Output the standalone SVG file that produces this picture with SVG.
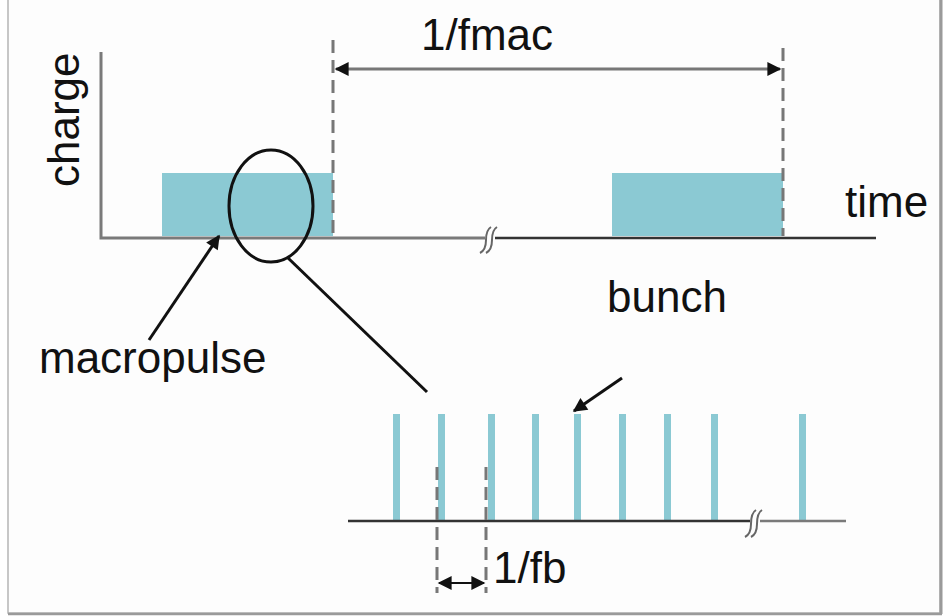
<svg xmlns="http://www.w3.org/2000/svg" width="946" height="616" viewBox="0 0 946 616">
<defs>
<style>
.lbl{font-family:"Liberation Sans",Arial,sans-serif;font-size:44px;fill:#111}
.bar{fill:#8bc9d3}
.axis{stroke:#7a7a7a;stroke-width:3;fill:none}
.axisd{stroke:#333;stroke-width:2.5;fill:none}
.dash{stroke:#777;stroke-width:3;stroke-dasharray:13 7;fill:none}
.brk{stroke:#666;stroke-width:2;fill:none}
.blk{stroke:#111;stroke-width:3;fill:none}
</style>
<marker id="ah" viewBox="0 0 10 10" refX="9" refY="5" markerWidth="6" markerHeight="6" orient="auto-start-reverse" markerUnits="userSpaceOnUse">
<path d="M0,0 L10,5 L0,10 z" fill="#111"/>
</marker>
<marker id="ahb" viewBox="0 0 10 10" refX="9" refY="5" markerWidth="16" markerHeight="14" orient="auto-start-reverse" markerUnits="userSpaceOnUse">
<path d="M0,0 L10,5 L0,10 z" fill="#111"/>
</marker>
</defs>
<rect x="0" y="0" width="946" height="616" fill="#ffffff"/>
<rect x="8" y="-2" width="932" height="615" fill="#fdfdfd" stroke="#b5b5b5" stroke-width="1.5"/>
<line x1="941" y1="0" x2="941" y2="614" stroke="#9a9a9a" stroke-width="3"/>
<line x1="8" y1="614" x2="942" y2="614" stroke="#9a9a9a" stroke-width="2.5"/>

<g id="top-plot">
<rect class="bar" x="162" y="173" width="171" height="63"/>
<rect class="bar" x="612" y="173" width="171" height="63"/>
<polyline class="axis" points="101,52 101,238 485,238"/>
<line class="axisd" x1="495" y1="238" x2="876" y2="238"/>
<path class="brk" d="M480,253 Q486,250 486,240 Q486,230 491,227"/>
<path class="brk" d="M486,253 Q492,250 492,240 Q492,230 497,227"/>
</g>

<g id="bottom-plot">
<rect class="bar" x="393" y="414" width="7" height="107"/>
<rect class="bar" x="438" y="414" width="7" height="107"/>
<rect class="bar" x="488" y="414" width="7" height="107"/>
<rect class="bar" x="532" y="414" width="7" height="107"/>
<rect class="bar" x="574" y="414" width="7" height="107"/>
<rect class="bar" x="619" y="414" width="7" height="107"/>
<rect class="bar" x="664" y="414" width="7" height="107"/>
<rect class="bar" x="711" y="414" width="7" height="107"/>
<rect class="bar" x="799" y="414" width="7" height="107"/>
<line class="axisd" x1="348" y1="521" x2="750" y2="521"/>
<line class="axis" x1="760" y1="521" x2="846" y2="521" style="stroke-width:2.5"/>
<path class="brk" d="M745,537 Q751,534 751,524 Q751,513 756,510"/>
<path class="brk" d="M751,537 Q757,534 757,524 Q757,513 762,510"/>
</g>

<g id="zoom-ellipse">
<ellipse class="blk" cx="271" cy="206" rx="42" ry="56"/>
</g>

<g id="connectors">
<line class="dash" x1="333" y1="40" x2="333" y2="236"/>
<line class="dash" x1="783" y1="48" x2="783" y2="236"/>
<line x1="336" y1="69" x2="780" y2="69" stroke="#777" stroke-width="3" marker-start="url(#ahb)" marker-end="url(#ahb)"/>
<line class="blk" x1="287" y1="257" x2="427" y2="392"/>
<line x1="149" y1="340" x2="219" y2="236" stroke="#111" stroke-width="3" marker-end="url(#ahb)"/>
<line x1="622" y1="378" x2="574" y2="411" stroke="#111" stroke-width="3" marker-end="url(#ahb)"/>
<line class="dash" x1="437" y1="467" x2="437" y2="593"/>
<line class="dash" x1="486" y1="467" x2="486" y2="593"/>
<line x1="439" y1="583" x2="484" y2="583" stroke="#111" stroke-width="2" marker-start="url(#ahb)" marker-end="url(#ahb)"/>
</g>

<g id="labels">
<text class="lbl" x="421" y="50">1/fmac</text>
<text class="lbl" transform="translate(79,187) rotate(-90)">charge</text>
<text class="lbl" x="845" y="217">time</text>
<text class="lbl" x="607" y="312">bunch</text>
<text class="lbl" x="39" y="373">macropulse</text>
<text class="lbl" x="493" y="583">1/fb</text>
</g>
</svg>
